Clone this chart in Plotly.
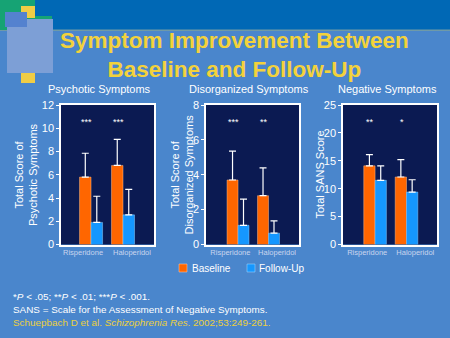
import plotly.graph_objects as go

# ---- data ----
categories = ["Risperidone", "Haloperidol"]

psychotic_baseline = [5.8, 6.8]
psychotic_baseline_sd = [2.05, 2.25]
psychotic_followup = [1.9, 2.55]
psychotic_followup_sd = [2.25, 2.2]
psychotic_stars = ["***", "***"]

disorg_baseline = [3.7, 2.8]
disorg_baseline_sd = [1.65, 1.6]
disorg_followup = [1.1, 0.65]
disorg_followup_sd = [1.5, 0.7]
disorg_stars = ["***", "**"]

negative_baseline = [14.1, 12.1]
negative_baseline_sd = [2.0, 3.1]
negative_followup = [11.5, 9.4]
negative_followup_sd = [2.6, 2.2]
negative_stars = ["**", "*"]

panel_titles = ["Psychotic Symptoms", "Disorganized Symptoms", "Negative Symptoms"]
y_titles = ["Total Score of<br>Psychotic Symptoms",
            "Total Score of<br>Disorganized Symptoms",
            "Total SANS Score"]
y_ticks = [[0, 2, 4, 6, 8, 10, 12], [0, 2, 4, 6, 8], [0, 5, 10, 15, 20, 25]]
y_max = [12, 8, 25]
star_levels = [10.55, 7.04, 22.0]

# ---- style ----
W, H = 450, 338
PAPER = "#4a86cc"
BAND = "#0068b5"
NAVY = "#0b1a52"
ORANGE = "#ff6600"
BLUE = "#1597ff"
YELLOW = "#f3d23b"
FONT = "Arial, Liberation Sans, sans-serif"


def px_x(p):
    return p / W


def px_y(p):
    return 1 - p / H


panels = [
    (psychotic_baseline, psychotic_baseline_sd, psychotic_followup, psychotic_followup_sd, psychotic_stars),
    (disorg_baseline, disorg_baseline_sd, disorg_followup, disorg_followup_sd, disorg_stars),
    (negative_baseline, negative_baseline_sd, negative_followup, negative_followup_sd, negative_stars),
]
x_domains_px = [(61, 154), (206, 299), (343, 437)]
x_ranges = [(-0.94, 1.97), (-1.05, 2.0), (-1.02, 1.97)]
y_domain = [px_y(244.5), px_y(105)]
ytitle_x = [25.5, 181, 319]
label_shift = [-0.25, 0.28]   # category labels sit slightly outward of their bar groups

fig = go.Figure()
xpos = list(range(len(categories)))

annotations = []


def note(x, y, text, size, color, xanchor="center", angle=0):
    return dict(x=px_x(x), y=px_y(y), xref="paper", yref="paper", text=text,
                xanchor=xanchor, yanchor="middle", showarrow=False, textangle=angle,
                font=dict(size=size, color=color, family=FONT))


for i, (base, base_sd, fol, fol_sd, stars) in enumerate(panels):
    n = "" if i == 0 else str(i + 1)
    xa, ya = "x" + n, "y" + n
    fig.add_trace(go.Bar(
        x=xpos, y=base, name="Baseline", marker_color=ORANGE,
        marker_line=dict(color="rgba(255,190,140,0.8)", width=0.6),
        error_y=dict(type="data", array=base_sd, arrayminus=[0] * len(base_sd),
                     symmetric=False, color="white", thickness=1.2, width=3.5),
        xaxis=xa, yaxis=ya, showlegend=False))
    fig.add_trace(go.Bar(
        x=xpos, y=fol, name="Follow-Up", marker_color=BLUE,
        marker_line=dict(color="rgba(150,210,255,0.8)", width=0.6),
        error_y=dict(type="data", array=fol_sd, arrayminus=[0] * len(fol_sd),
                     symmetric=False, color="white", thickness=1.2, width=3.5),
        xaxis=xa, yaxis=ya, showlegend=False))

    x0, x1 = x_domains_px[i]
    fig.layout["xaxis" + n] = dict(
        domain=[px_x(x0), px_x(x1)], range=list(x_ranges[i]), anchor=ya,
        tickvals=[p + s for p, s in zip(xpos, label_shift)], ticktext=categories,
        ticks="", tickangle=0, automargin=False,
        showgrid=False, zeroline=False,
        showline=True, linecolor="white", linewidth=1.5, mirror=True,
        tickfont=dict(size=7.5, color="#c9d5ee", family=FONT), fixedrange=True)
    fig.layout["yaxis" + n] = dict(
        domain=y_domain, range=[0, y_max[i]], anchor=xa, automargin=False,
        tickvals=y_ticks[i], ticks="outside", ticklen=3, tickcolor="white",
        showgrid=False, zeroline=False,
        showline=True, linecolor="white", linewidth=1.5, mirror=True,
        tickfont=dict(size=11, color="white", family=FONT),
        fixedrange=True)

    # axis title
    annotations.append(note(ytitle_x[i], 174.5, y_titles[i], 11, "white", angle=-90))

    # significance markers
    for j, s in enumerate(stars):
        annotations.append(dict(
            x=xpos[j] - 0.15, y=star_levels[i], xref=xa, yref=ya, text=s,
            xanchor="center", yanchor="middle",
            showarrow=False, font=dict(size=9, color="white", family=FONT)))

# panel headings
heading_x = [99.5, 249, 387]
for t, hx in zip(panel_titles, heading_x):
    annotations.append(note(hx, 89, t, 11, "white"))

# main title
annotations.append(note(234, 55, "<b>Symptom Improvement Between<br>Baseline and Follow-Up</b>",
                        22.5, YELLOW))

# legend labels
annotations.append(note(190, 268, "Baseline", 10, "white", "left"))
annotations.append(note(257, 268, "Follow-Up", 10, "white", "left"))

# footnotes
foot = [
    ("*<i>P</i> &lt; .05; **<i>P</i> &lt; .01; ***<i>P</i> &lt; .001.", "white", 296),
    ("SANS = Scale for the Assessment of Negative Symptoms.", "white", 309),
    ("Schuepbach D et al. <i>Schizophrenia Res</i>. 2002;53:249-261.", "#ebcf3e", 322),
]
for txt, col, yy in foot:
    annotations.append(note(11, yy, txt, 9.9, col, "left"))


def rect(x0, y0, x1, y1, color, layer="below", line=None):
    return dict(type="rect", xref="paper", yref="paper",
                x0=px_x(x0), x1=px_x(x1), y0=px_y(y1), y1=px_y(y0),
                fillcolor=color, line=line or dict(width=0), layer=layer)


shapes = [
    # header band and corner decoration
    rect(0, 0, W, 30, BAND),
    rect(0, 29.5, W, 31, "#6f9aa8"),
    rect(0, 0, 35, 30, "#16a374"),
    rect(27, 16, 52, 20, "#16a374"),
    rect(21, 6, 35, 18, "#f0cd45"),
    rect(21, 72, 35, 83, "#f0cd45"),
    rect(7, 19, 53, 73, "#7d9fd6"),
    rect(5, 12, 27, 27, "#5482cf"),
    # legend swatches
    rect(179, 264, 187, 272, ORANGE, "above", dict(color="rgba(255,200,160,0.9)", width=0.6)),
    rect(247, 264, 255, 272, BLUE, "above", dict(color="rgba(160,215,255,0.9)", width=0.6)),
]
# navy plot areas
for x0, x1 in x_domains_px:
    shapes.append(rect(x0, 105, x1, 244.5, NAVY))

fig.update_layout(
    width=W, height=H, margin=dict(l=0, r=0, t=0, b=0, autoexpand=False),
    paper_bgcolor=PAPER, plot_bgcolor="rgba(0,0,0,0)",
    barmode="group", bargap=0.28, bargroupgap=0,
    showlegend=False, annotations=annotations, shapes=shapes,
    font=dict(family=FONT, color="white"),
)

fig.write_html("out.html", config={"displayModeBar": False})
